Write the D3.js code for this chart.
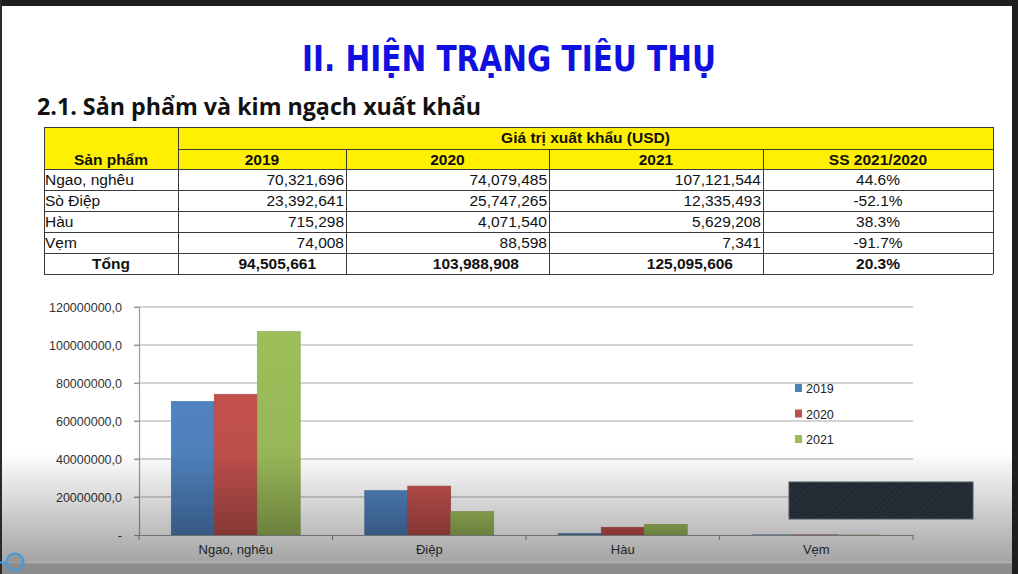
<!DOCTYPE html>
<html><head><meta charset="utf-8">
<script src="https://cdn.jsdelivr.net/npm/d3@7"></script>
<style>html,body{margin:0;padding:0;background:#fff;}svg{display:block;}</style>
</head><body>
<script>
// ---- data ----
const chartCategories = ["Ngao, nghêu", "Điệp", "Hàu", "Vẹm"];
const tableProducts = ["Ngao, nghêu", "Sò Điệp", "Hàu", "Vẹm"];
const years = ["2019", "2020", "2021"];
const values2019 = [70321696, 23392641, 715298, 74008];
const values2020 = [74079485, 25747265, 4071540, 88598];
const values2021 = [107121544, 12335493, 5629208, 7341];
const ssPercent = ["44.6%", "-52.1%", "38.3%", "-91.7%"];
const totalValues = [94505661, 103988908, 125095606];
const totalPercent = "20.3%";
const yTicks = [0, 20000000, 40000000, 60000000, 80000000, 100000000, 120000000];
const seriesColors = ["#4F81BD", "#C0504D", "#9BBB59"];

const W = 1018, H = 574;
const svg = d3.select("body").append("svg").attr("width", W).attr("height", H);
const defs = svg.append("defs");

svg.append("rect").attr("width", W).attr("height", H).attr("fill", "#ffffff");

// ---- titles ----
svg.append("text").attr("x", 302).attr("y", 71).attr("textLength", 414).attr("lengthAdjust", "spacingAndGlyphs")
  .attr("font-family", "'Liberation Sans Narrow','DejaVu Sans Condensed','Liberation Sans',Arial,sans-serif")
  .attr("font-weight", "bold").attr("font-size", 35).attr("fill", "#1010e0").text("II. HIỆN TRẠNG TIÊU THỤ");
svg.append("text").attr("x", 37).attr("y", 115).attr("textLength", 444).attr("lengthAdjust", "spacingAndGlyphs")
  .attr("font-family", "'Open Sans','Liberation Sans',Arial,sans-serif")
  .attr("font-weight", "bold").attr("font-size", 24).attr("fill", "#111").text("2.1. Sản phẩm và kim ngạch xuất khẩu");

// ---- table ----
const colX = [44, 178, 346, 549, 763, 993];
const rowY = [127, 149, 169, 190, 211, 232, 253, 274];
const tf = "'Liberation Sans',Arial,sans-serif";
const tbl = svg.append("g").attr("font-family", tf).attr("font-size", 15.5).attr("fill", "#111");
// yellow headers
tbl.append("rect").attr("x", colX[0]).attr("y", rowY[0]).attr("width", colX[5] - colX[0]).attr("height", rowY[2] - rowY[0]).attr("fill", "#FFEF00");
const fmt = d3.format(",");
const lineColor = "#3a3a3a";
const lines = tbl.append("g").attr("stroke", lineColor).attr("stroke-width", 1).attr("shape-rendering", "crispEdges");
// outer/horizontal lines
rowY.forEach((y, i) => {
  const x1 = (i === 1) ? colX[1] : colX[0];
  lines.append("line").attr("x1", x1).attr("x2", colX[5]).attr("y1", y + 0.5).attr("y2", y + 0.5);
});
colX.forEach((x, i) => {
  const y1 = (i === 0 || i === 1 || i === 5) ? rowY[0] : rowY[1];
  lines.append("line").attr("x1", x + 0.5).attr("x2", x + 0.5).attr("y1", y1).attr("y2", rowY[7]);
});
// header texts
tbl.append("text").attr("x", (colX[1] + colX[5]) / 2).attr("y", rowY[0] + 16).attr("text-anchor", "middle").attr("font-weight", "bold").text("Giá trị xuất khẩu (USD)");
tbl.append("text").attr("x", (colX[0] + colX[1]) / 2).attr("y", rowY[1] + 16).attr("text-anchor", "middle").attr("font-weight", "bold").text("Sản phẩm");
const hdr = years.concat(["SS 2021/2020"]);
hdr.forEach((h, i) => {
  tbl.append("text").attr("x", (colX[i + 1] + colX[i + 2]) / 2).attr("y", rowY[1] + 16).attr("text-anchor", "middle").attr("font-weight", "bold").text(h);
});
// data rows
const allSeries = [values2019, values2020, values2021];
tableProducts.forEach((p, r) => {
  const by = rowY[r + 2] + 16;
  tbl.append("text").attr("x", colX[0] + 1).attr("y", by).text(p);
  allSeries.forEach((s, c) => {
    tbl.append("text").attr("x", colX[c + 2] - 2).attr("y", by).attr("text-anchor", "end").text(fmt(s[r]));
  });
  tbl.append("text").attr("x", (colX[4] + colX[5]) / 2).attr("y", by).attr("text-anchor", "middle").text(ssPercent[r]);
});
const ty = rowY[6] + 16;
tbl.append("text").attr("x", (colX[0] + colX[1]) / 2).attr("y", ty).attr("text-anchor", "middle").attr("font-weight", "bold").text("Tổng");
totalValues.forEach((v, c) => {
  tbl.append("text").attr("x", colX[c + 2] - 30).attr("y", ty).attr("text-anchor", "end").attr("font-weight", "bold").text(fmt(v));
});
tbl.append("text").attr("x", (colX[4] + colX[5]) / 2).attr("y", ty).attr("text-anchor", "middle").attr("font-weight", "bold").text(totalPercent);

// ---- chart ----
const plotL = 139, plotR = 913, plotT = 307, plotB = 535;
const x0 = d3.scaleBand().domain(chartCategories).range([plotL, plotR]).paddingInner(0).paddingOuter(0);
const bw = x0.bandwidth();
const x1 = d3.scaleBand().domain(years).range([bw / 6, bw * 5 / 6]).padding(0);
const y = d3.scaleLinear().domain([0, 120000000]).range([plotB, plotT]);

const chart = svg.append("g").attr("font-family", tf);
// gridlines
chart.append("g").selectAll("line").data(yTicks.filter(t => t > 0)).join("line")
  .attr("x1", plotL - 5).attr("x2", plotR).attr("y1", d => y(d)).attr("y2", d => y(d))
  .attr("stroke", "#a8a8a8").attr("stroke-width", 1.2);
// y axis
const yAxis = d3.axisLeft(y).tickValues(yTicks).tickSize(5).tickPadding(12)
  .tickFormat(d => d === 0 ? "-" : d3.format("d")(d) + ",0");
const yg = chart.append("g").attr("transform", `translate(${plotL},0)`).call(yAxis);
yg.select(".domain").attr("stroke", "#9a9a9a").attr("stroke-width", 1.2);
yg.selectAll(".tick line").attr("stroke", "#9a9a9a").attr("stroke-width", 1.2);
yg.selectAll("text").attr("font-size", 12.5).attr("fill", "#333").attr("font-family", tf);

// bars
const seriesData = years.map((yr, i) => ({ year: yr, vals: allSeries[i] }));
seriesData.forEach((s, si) => {
  const g = defs.append("linearGradient").attr("id", "grad" + si).attr("x1", 0).attr("y1", 0).attr("x2", 0).attr("y2", 1);
  g.append("stop").attr("offset", "0%").attr("stop-color", d3.color(seriesColors[si]).brighter(0.05));
  g.append("stop").attr("offset", "100%").attr("stop-color", d3.color(seriesColors[si]).darker(0.15));
});
const groups = chart.append("g").selectAll("g").data(chartCategories).join("g")
  .attr("transform", d => `translate(${x0(d)},0)`);
groups.selectAll("rect").data((d, ci) => seriesData.map((s, si) => ({ year: s.year, v: s.vals[ci], si }))).join("rect")
  .attr("x", d => x1(d.year)).attr("width", x1.bandwidth())
  .attr("y", d => y(d.v)).attr("height", d => y(0) - y(d.v))
  .attr("fill", d => `url(#grad${d.si})`)
  .attr("stroke", d => d3.color(seriesColors[d.si]).darker(0.3)).attr("stroke-width", 0.6);

// x axis
const xAxis = d3.axisBottom(x0).tickSize(0).tickPadding(10);
const xg = chart.append("g").attr("transform", `translate(0,${plotB})`).call(xAxis);
xg.select(".domain").attr("stroke", "#9a9a9a").attr("stroke-width", 1.2);
xg.selectAll("text").attr("font-size", 13).attr("fill", "#333").attr("font-family", tf);
const bounds = chartCategories.map(c => x0(c)).concat([plotR]);
chart.append("g").selectAll("line").data(bounds).join("line")
  .attr("x1", d => d).attr("x2", d => d).attr("y1", plotB).attr("y2", plotB + 5)
  .attr("stroke", "#9a9a9a").attr("stroke-width", 1.2);

// legend
const leg = chart.append("g").attr("transform", "translate(795,383)");
years.forEach((yr, i) => {
  const gg = leg.append("g").attr("transform", `translate(0,${i * 25.5})`);
  gg.append("rect").attr("width", 7).attr("height", 8).attr("y", 1).attr("fill", seriesColors[i]);
  gg.append("text").attr("x", 11).attr("y", 10).attr("font-size", 12.5).attr("fill", "#222").text(yr);
});

// ---- video overlay elements ----
const ov = defs.append("linearGradient").attr("id", "shade").attr("x1", 0).attr("y1", 0).attr("x2", 0).attr("y2", 1);
ov.append("stop").attr("offset", "0%").attr("stop-color", "#000").attr("stop-opacity", 0);
ov.append("stop").attr("offset", "100%").attr("stop-color", "#000").attr("stop-opacity", 0.36);
svg.append("rect").attr("x", 0).attr("y", 452).attr("width", W).attr("height", 111).attr("fill", "url(#shade)");
svg.append("rect").attr("x", 0).attr("y", 563).attr("width", W).attr("height", 11).attr("fill", "#8c8c8c");
svg.append("line").attr("x1", 0).attr("x2", W).attr("y1", 562.5).attr("y2", 562.5).attr("stroke", "#b4b4b4").attr("stroke-width", 1.5);
// dark box
const pat = defs.append("pattern").attr("id", "hatch").attr("width", 4).attr("height", 4).attr("patternUnits", "userSpaceOnUse").attr("patternTransform", "rotate(45)");
pat.append("rect").attr("width", 4).attr("height", 4).attr("fill", "#222a34");
pat.append("line").attr("x1", 0).attr("x2", 0).attr("y1", 0).attr("y2", 4).attr("stroke", "#2b3440").attr("stroke-width", 1.5);
svg.append("rect").attr("x", 789).attr("y", 482).attr("width", 184).attr("height", 37).attr("fill", "url(#hatch)").attr("stroke", "#505860").attr("stroke-width", 1);
// frame
svg.append("rect").attr("x", 0).attr("y", 0).attr("width", W).attr("height", 6).attr("fill", "#1e1e1e");
svg.append("rect").attr("x", 1012).attr("y", 0).attr("width", 6).attr("height", H).attr("fill", "#1e1e1e");
svg.append("rect").attr("x", 0).attr("y", 0).attr("width", 2).attr("height", H).attr("fill", "#2a2a2a");
svg.append("line").attr("x1", 0).attr("x2", 7).attr("y1", 562.5).attr("y2", 562.5).attr("stroke", "#3d9be0").attr("stroke-width", 2);
svg.append("circle").attr("cx", 15).attr("cy", 562).attr("r", 8.5).attr("fill", "rgba(140,140,140,0.6)").attr("stroke", "#3d9be0").attr("stroke-width", 2.2);
</script>
</body></html>
